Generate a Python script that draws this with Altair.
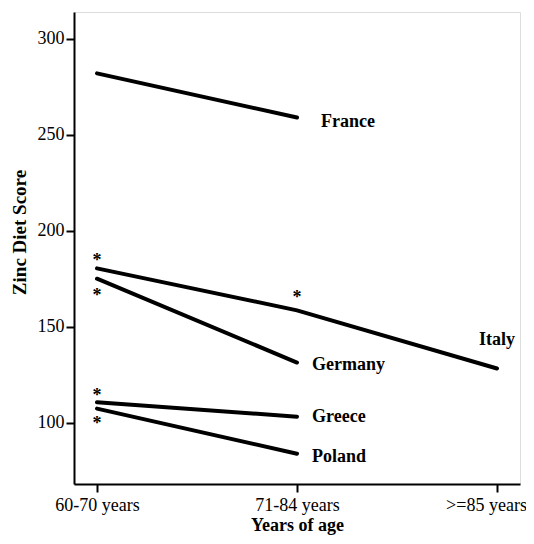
import altair as alt
import pandas as pd

age_groups = ["60-70 years", "71-84 years", ">=85 years"]
france = [282, 259]
italy = [180.4, 158.5, 128.2]
germany = [175, 131.3]
greece = [110.6, 103.1]
poland = [107.3, 83.8]

label_names = ["France", "Germany", "Italy", "Greece", "Poland"]
label_x = [1.12, 1.075, 2.0, 1.075, 1.075]
label_y = [256.7, 129.8, 142.8, 103.1, 82.2]
label_align = ["left", "left", "center", "left", "left"]

star_x = [0, 0, 1, 0, 0]
star_y = [186, 167.4, 166.3, 115.6, 101]

rows = []
for name, vals in [("France", france), ("Italy", italy), ("Germany", germany),
                   ("Greece", greece), ("Poland", poland)]:
    for i, v in enumerate(vals):
        rows.append({"country": name, "age": i, "score": v})
lines_df = pd.DataFrame(rows)
labels_df = pd.DataFrame({"name": label_names, "x": label_x, "y": label_y, "align": label_align})
stars_df = pd.DataFrame({"x": star_x, "y": star_y})

label_expr = ("datum.value == 0 ? '" + age_groups[0] + "' : datum.value == 1 ? '"
              + age_groups[1] + "' : '" + age_groups[2] + "'")

xscale = alt.Scale(domain=[-0.115, 2.115], nice=False, zero=False)
yscale = alt.Scale(domain=[68, 314], nice=False, zero=False)

FONT = "Liberation Serif"

x_axis = alt.Axis(values=[0, 1, 2], labelExpr=label_expr, title="Years of age", grid=False,
                  domainColor="black", domainWidth=2, tickColor="black", tickWidth=2, tickSize=8,
                  labelFont=FONT, labelFontSize=18, labelColor="black", labelPadding=4,
                  labelOverlap=False, labelBound=False, labelFlush=False,
                  labelOffset={"condition": {"test": "datum.value == 2", "value": -11}, "value": 0},
                  titleFont=FONT, titleFontSize=18, titleFontWeight="bold", titleColor="black",
                  titlePadding=2)
y_axis = alt.Axis(values=[100, 150, 200, 250, 300], title="Zinc Diet Score", grid=False,
                  domainColor="black", domainWidth=2, tickColor="black", tickWidth=2, tickSize=8,
                  labelFont=FONT, labelFontSize=18, labelColor="black", labelPadding=2,
                  titleFont=FONT, titleFontSize=19, titleFontWeight="bold", titleColor="black",
                  titlePadding=8, titleY=220)

lines = alt.Chart(lines_df).mark_line(color="black", strokeWidth=4, strokeCap="round").encode(
    x=alt.X("age:Q", scale=xscale, axis=x_axis),
    y=alt.Y("score:Q", scale=yscale, axis=y_axis),
    detail="country:N",
)

labels_left = alt.Chart(labels_df).transform_filter("datum.align == 'left'").mark_text(
    font=FONT, fontSize=18, fontWeight="bold", align="left", baseline="middle", color="black"
).encode(x=alt.X("x:Q", scale=xscale), y=alt.Y("y:Q", scale=yscale), text="name:N")

labels_center = alt.Chart(labels_df).transform_filter("datum.align == 'center'").mark_text(
    font=FONT, fontSize=18, fontWeight="bold", align="center", baseline="middle", color="black"
).encode(x=alt.X("x:Q", scale=xscale), y=alt.Y("y:Q", scale=yscale), text="name:N")

stars = alt.Chart(stars_df).mark_text(
    font=FONT, fontSize=18, fontWeight="bold", align="center", baseline="middle", color="black", dy=3
).encode(x=alt.X("x:Q", scale=xscale), y=alt.Y("y:Q", scale=yscale), text=alt.value("*"))

chart = alt.layer(lines, labels_left, labels_center, stars).properties(
    width=446, height=472,
    autosize=alt.AutoSizeParams(type="none"),
    padding={"left": 66, "top": 4, "right": 6, "bottom": 52},
).configure_view(stroke=None).configure(background="white")

chart.save("out.html", embed_options={"renderer": "svg", "actions": False})
